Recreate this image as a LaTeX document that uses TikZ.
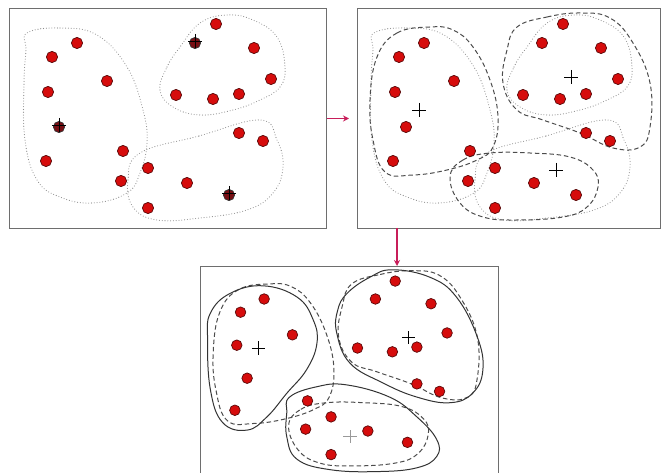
\documentclass[tikz,border=0pt]{standalone}
\usetikzlibrary{arrows.meta}
\definecolor{dotred}{RGB}{214,12,12}
\definecolor{dotedge}{RGB}{90,10,10}
\definecolor{seedred}{RGB}{120,15,20}
\definecolor{arrowc}{RGB}{200,30,90}
\definecolor{framec}{RGB}{110,110,110}
\tikzset{
  frame/.style={draw=framec, line width=1pt, anchor=north west, inner sep=0pt},
  olddot/.style={draw=black!45, line width=1.1pt, line cap=round, dash pattern=on 0pt off 2.8pt},
  middash/.style={draw=black!70, line width=1pt, dash pattern=on 4.5pt off 2.8pt},
  finalline/.style={draw=black!80, line width=1pt},
  ptdot/.style={fill=dotred, draw=dotedge, line width=0.7pt},
  seeddot/.style={fill=seedred, draw=black!80, line width=0.7pt},
  crossmark/.style={draw=black, line width=0.75pt},
  arr/.style={draw=arrowc, line width=1.6pt, -{Stealth[length=6pt,width=6pt]}},
}
% cluster outlines in panel-local coordinates
\newcommand{\outAleft}{plot[smooth cycle, tension=0.7] coordinates {(18,25) (51,20) (88,27) (118,59) (134,102) (138,135) (131,165) (118,185) (84,195) (51,189) (28,172) (16,132) (15,75) (17,42)}}
\newcommand{\outAtop}{plot[smooth cycle, tension=0.7] coordinates {(151,82) (158,59) (171,39) (191,15) (218,7) (244,12) (268,29) (276,59) (271,79) (251,92) (224,102) (191,107) (164,99)}}
\newcommand{\outAbot}{plot[smooth cycle, tension=0.7] coordinates {(131,145) (190,128) (251,112) (268,132) (274,159) (264,185) (238,202) (191,210) (148,212) (124,199) (119,172)}}
\newcommand{\outBleft}{plot[smooth cycle, tension=0.7] coordinates {(74,19) (41,25) (21,49) (14,92) (17,132) (29,164) (57,167) (91,162) (121,152) (137,139) (142,109) (134,72) (117,39) (97,22)}}
\newcommand{\outBtop}{plot[smooth cycle, tension=0.7] coordinates {(161,19) (191,9) (224,5) (254,10) (277,35) (294,75) (294,119) (284,139) (257,140) (224,125) (187,112) (161,102) (147,75) (151,42)}}
\newcommand{\outBbot}{plot[smooth cycle, tension=0.7] coordinates {(94,169) (107,152) (134,145) (174,145) (214,149) (237,162) (242,179) (231,199) (207,209) (161,212) (127,209) (104,195)}}
\newcommand{\outCleft}{plot[smooth cycle, tension=0.7] coordinates {(32,29) (67,21) (103,33) (120,57) (124,82) (113,110) (92,135) (71,160) (50,174) (24,166) (11,131) (8,78) (11,50)}}
\newcommand{\outCtop}{plot[smooth cycle, tension=0.7] coordinates {(156,29) (180,12) (204,4) (244,12) (272,33) (294,75) (300,110) (289,135) (265,145) (230,139) (194,124) (159,103) (145,71) (146,47)}}
\newcommand{\outCbot}{plot[smooth cycle, tension=0.7] coordinates {(95,139) (124,128) (155,126) (201,139) (230,160) (251,184) (251,202) (230,214) (188,218) (138,216) (103,205) (92,181) (92,156)}}
\newcommand{\plainpts}{(68,35),(43,49),(98,73),(39,84),(37,153),(114,143),(112,173),(139,160),(139,200),(178,175),(207,16),(245,40),(262,71),(167,87),(204,91),(230,86),(230,125),(254,133)}
\newcommand{\seedpts}{(50,119),(220,187),(186,35)}
\newcommand{\crossat}[3][crossmark]{\draw[#1] (#2,#3) ++(-7,0) -- ++(14,0) (#2,#3) ++(0,-7) -- ++(0,14);}
\begin{document}
\begin{tikzpicture}[x=1pt, y=-1pt]
\useasboundingbox (0,0) rectangle (664,473);
% panel frames
\node[frame, minimum width=317pt, minimum height=220pt] (p1) at (9,8) {};
\node[frame, minimum width=303pt, minimum height=220pt] (p2) at (357,8) {};
\node[frame, minimum width=298pt, minimum height=210pt] (p3) at (200,266) {};
% arrows between panels
\draw[arr] (p1.east) -- ([xshift=-8pt]p2.west);
\coordinate (v) at (397,228);
\draw[arr] (v) -- (v |- p3.north);
% panel 1: initial seeds and clusters
\begin{scope}[shift={(9,8)}]
  \draw[olddot] \outAleft;
  \draw[olddot] \outAtop;
  \draw[olddot] \outAbot;
  \foreach \p in \plainpts { \filldraw[ptdot] \p circle[radius=5.6pt]; }
  \foreach \p in \seedpts { \filldraw[seeddot] \p circle[radius=5.6pt]; }
  \crossat{50}{117}
  \crossat{220}{185}
  \crossat{186}{33}
\end{scope}
% panel 2: updated centroids
\begin{scope}[shift={(356,8)}]
  \draw[olddot] \outAleft;
  \draw[olddot] \outAtop;
  \draw[olddot] \outAbot;
  \draw[middash] \outBleft;
  \draw[middash] \outBtop;
  \draw[middash] \outBbot;
  \foreach \p in \plainpts { \filldraw[ptdot] \p circle[radius=5.6pt]; }
  \foreach \p in \seedpts { \filldraw[ptdot] \p circle[radius=5.6pt]; }
  \crossat{63}{102}
  \crossat{215}{69}
  \crossat{200}{162}
\end{scope}
% panel 3: final clusters
\begin{scope}[shift={(200,266)}, scale=0.943]
  \draw[middash] \outBleft;
  \draw[middash] \outBtop;
  \draw[middash] \outBbot;
  \draw[finalline] \outCleft;
  \draw[finalline] \outCtop;
  \draw[finalline] \outCbot;
  \foreach \p in \plainpts { \filldraw[ptdot] \p circle[radius=5.6pt]; }
  \foreach \p in \seedpts { \filldraw[ptdot] \p circle[radius=5.6pt]; }
  \crossat{62}{87}
  \crossat{221}{76}
  \crossat[draw=black!40, line width=0.6pt]{159}{181}
\end{scope}
\end{tikzpicture}
\end{document}
